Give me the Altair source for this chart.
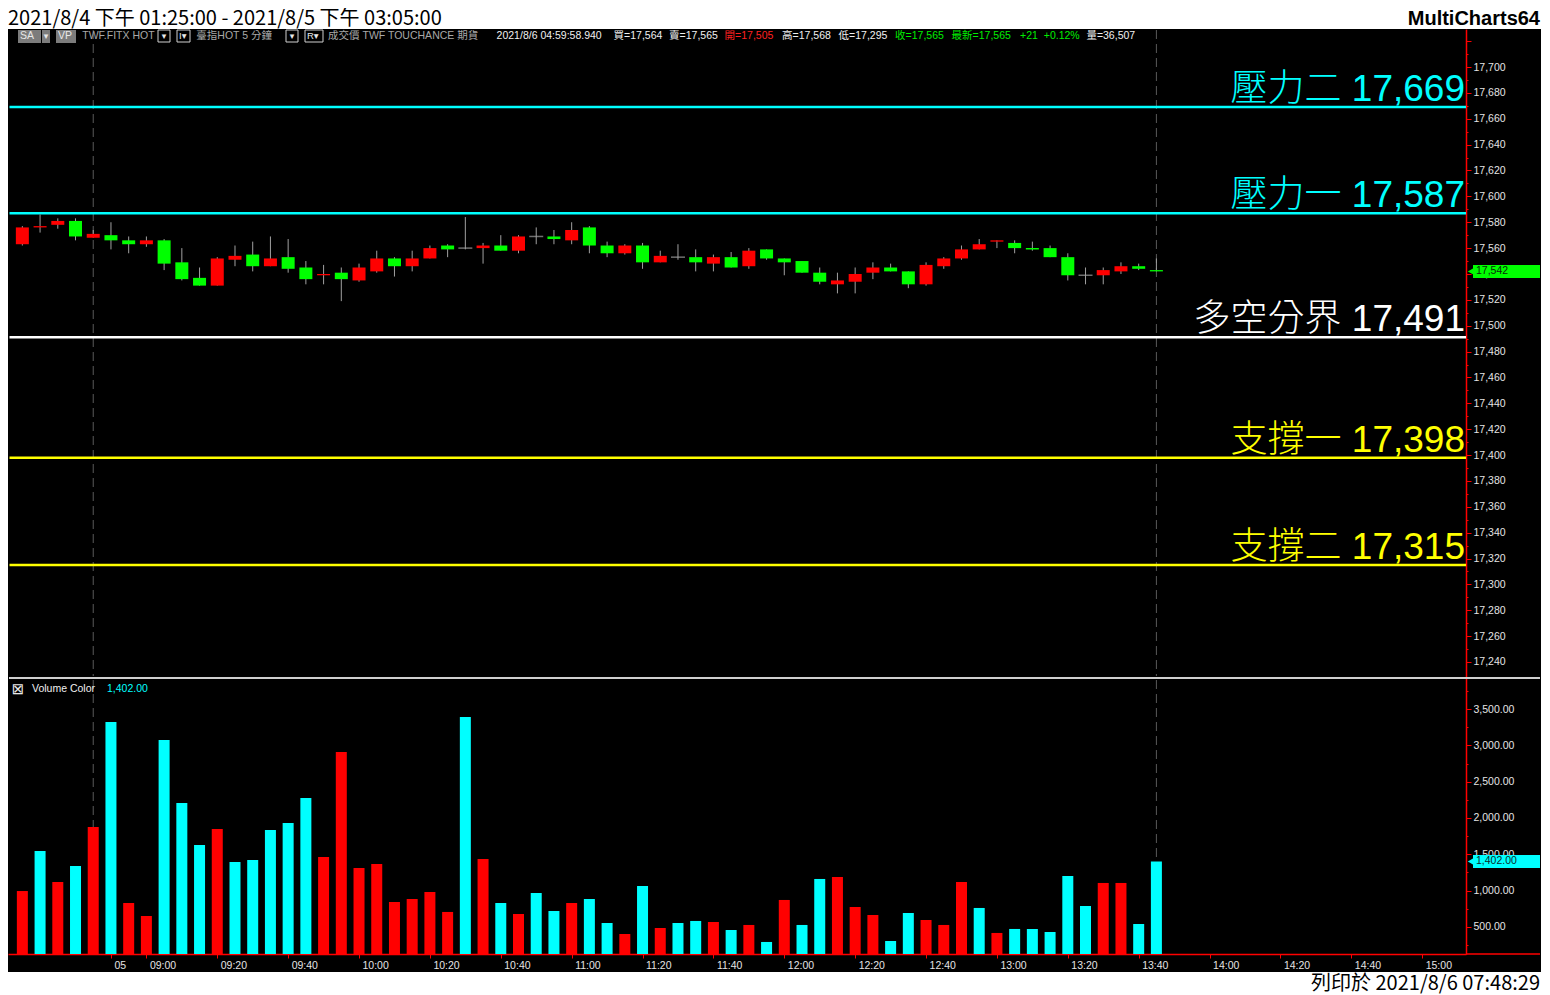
import altair as alt
import pandas as pd

# ------------------------------------------------------------------ data
TITLE_TEXT = "2021/8/4 下午 01:25:00 - 2021/8/5 下午 03:05:00"
BRAND_TEXT = "MultiCharts64"
FOOTER_TEXT = "列印於 2021/8/6 07:48:29"

DAY1_TIMES = ["13:25", "13:30", "13:35", "13:40", "13:45"]
DAY2_TIMES = [f"{m // 60:02d}:{m % 60:02d}" for m in range(530, 826, 5)]
BAR_TIMES = DAY1_TIMES + DAY2_TIMES

OPEN = [17563, 17576, 17578, 17581, 17568, 17570, 17566, 17563, 17566, 17549,
        17537, 17531, 17551, 17555, 17546, 17553, 17545, 17539, 17541, 17535,
        17542, 17552, 17546, 17552, 17562, 17560, 17560, 17562, 17558, 17569,
        17569, 17566, 17576, 17562, 17556, 17562, 17549, 17553, 17553, 17548,
        17553, 17546, 17559, 17552, 17550, 17541, 17532, 17534, 17541, 17545,
        17542, 17532, 17546, 17552, 17559, 17565, 17564, 17560, 17560, 17553,
        17539, 17539, 17542, 17546, 17543]
HIGH = [17577, 17586, 17583, 17583, 17574, 17580, 17569, 17569, 17567, 17560,
        17545, 17553, 17562, 17565, 17569, 17567, 17550, 17547, 17545, 17548,
        17558, 17553, 17558, 17562, 17563, 17584, 17564, 17570, 17570, 17576,
        17574, 17580, 17577, 17565, 17563, 17564, 17558, 17563, 17559, 17555,
        17557, 17560, 17559, 17552, 17550, 17545, 17541, 17545, 17549, 17548,
        17542, 17549, 17553, 17562, 17567, 17566, 17566, 17565, 17562, 17556,
        17545, 17545, 17549, 17548, 17552]
LOW = [17562, 17572, 17575, 17566, 17568, 17559, 17556, 17561, 17543, 17535,
       17531, 17531, 17546, 17542, 17546, 17541, 17532, 17532, 17519, 17534,
       17541, 17538, 17542, 17552, 17553, 17559, 17548, 17558, 17556, 17563,
       17563, 17563, 17556, 17553, 17555, 17544, 17549, 17551, 17542, 17542,
       17545, 17544, 17551, 17539, 17541, 17532, 17525, 17525, 17536, 17542,
       17529, 17531, 17544, 17551, 17559, 17560, 17556, 17558, 17553, 17535,
       17532, 17532, 17540, 17543, 17542]
CLOSE = [17576, 17577, 17581, 17569, 17571, 17566, 17563, 17566, 17548, 17536,
         17531, 17552, 17554, 17546, 17552, 17544, 17536, 17540, 17536, 17545,
         17552, 17546, 17552, 17560, 17559, 17560, 17562, 17558, 17569, 17569,
         17567, 17574, 17562, 17556, 17562, 17549, 17554, 17553, 17549, 17553,
         17545, 17558, 17552, 17549, 17541, 17534, 17535, 17540, 17545, 17542,
         17532, 17547, 17552, 17559, 17563, 17566, 17560, 17559, 17553, 17539,
         17539, 17543, 17546, 17544, 17542]
VOLUME = [995, 1546, 1119, 1340, 1876, 3321, 830, 651, 3073, 2206,
          1628, 1849, 1395, 1422, 1835, 1931, 2275, 1463, 2908, 1312,
          1367, 844, 885, 982, 707, 3390, 1436, 830, 679, 968,
          720, 830, 885, 555, 404, 1064, 486, 555, 583, 569,
          459, 528, 294, 872, 528, 1161, 1188, 775, 665, 307,
          693, 596, 528, 1119, 762, 418, 473, 473, 431, 1202,
          789, 1106, 1106, 541, 1402]
# r = red volume bar, c = cyan volume bar
VOLUME_SIDE = list("rcrcrcrrcc" "crcccccrrr" "rrrrrcrcrc" "crccrcrccr"
                   "crcrccrrrc" "crrrcrcccc" "crrcc")

LEVEL_NAMES = ["壓力二", "壓力一", "多空分界", "支撐一", "支撐二"]
LEVEL_VALUES = [17669, 17587, 17491, 17398, 17315]
LEVEL_KINDS = ["res", "res", "pivot", "sup", "sup"]

LAST_PRICE = 17542
LAST_VOLUME = 1402.00

XTICK_TIMES = ["08:50", "09:00", "09:20", "09:40", "10:00", "10:20", "10:40",
               "11:00", "11:20", "11:40", "12:00", "12:20", "12:40", "13:00",
               "13:20", "13:40", "14:00", "14:20", "14:40", "15:00"]
XTICK_LABELS = ["05", "09:00", "09:20", "09:40", "10:00", "10:20", "10:40",
                "11:00", "11:20", "11:40", "12:00", "12:20", "12:40", "13:00",
                "13:20", "13:40", "14:00", "14:20", "14:40", "15:00"]

HEADER_TEXTS = ["TWF.FITX HOT", "臺指HOT  5 分鐘", "成交價  TWF  TOUCHANCE  期貨",
                "2021/8/6  04:59:58.940", "買=17,564", "賣=17,565", "開=17,505",
                "高=17,568", "低=17,295", "收=17,565", "最新=17,565", "+21",
                "+0.12%", "量=36,507"]
HEADER_TONES = ["gray", "gray", "gray", "white", "white", "white", "red",
                "white", "white", "green", "green", "green", "green", "white"]
VOLUME_TITLE = "Volume Color"

# ------------------------------------------------------------------ layout / style
W_PLOT, W_AXIS = 1458, 75
W_ALL = W_PLOT + W_AXIS
H_TITLE, H_PRICE, H_VOL, H_XAXIS, H_FOOT = 21, 648, 277, 18, 23
FX = W_PLOT / 1471.0          # horizontal factor vs. the original plot width

PRICE_DOMAIN = [17228.4, 17729.4]
VOL_DOMAIN = [128.4, 3940.4]
X_DOMAIN = [-0.528, 81.19]

HEADER_X = [75, 190, 323, 493, 611, 667, 723, 781, 838, 895, 952, 1021, 1045, 1088]
TONE_COLORS = {"gray": "#a8a8a8", "white": "#f0f0f0", "red": "#ff2020", "green": "#00ee00"}

SMALL_FONT = "Liberation Sans, DejaVu Sans, Noto Sans CJK TC"
BIG_FONT = "Liberation Sans, Noto Sans CJK TC"
CJK_FONT = "Noto Sans CJK TC"

UP, DOWN, WICK = "#ff0000", "#00ff00", "#a0a0a0"
VOL_RED, VOL_CYAN = "#ff0000", "#00ffff"
AXIS_RED = "#ff0000"
LABEL_GRAY = "#e4e4e4"
HEADER_Y = 7

# ------------------------------------------------------------------ tables
bars = pd.DataFrame({
    "i": list(range(len(BAR_TIMES))), "time": BAR_TIMES,
    "open": OPEN, "high": HIGH, "low": LOW, "close": CLOSE,
    "vol": VOLUME, "vside": VOLUME_SIDE,
})
sessions = pd.DataFrame({"i": [i for i, t in enumerate(BAR_TIMES) if t == "13:45"]})
levels = pd.DataFrame({
    "value": LEVEL_VALUES, "kind": LEVEL_KINDS,
    "label": [f"{n} {v:,}" for n, v in zip(LEVEL_NAMES, LEVEL_VALUES)],
})
one = pd.DataFrame({"k": [0]})


def tick_index(t):
    h, m = t.split(":")
    return 5 + (int(h) * 60 + int(m) - 530) // 5


XTICK_IDX = [tick_index(t) for t in XTICK_TIMES]
x_label_expr = "''"
for idx, lab in reversed(list(zip(XTICK_IDX, XTICK_LABELS))):
    x_label_expr = f"datum.value == {idx} ? '{lab}' : {x_label_expr}"

PRICE_TICKS = list(range(17240, 17721, 10))
VOL_TICKS = list(range(250, 3751, 250))

# ------------------------------------------------------------------ scales / axes
x_scale = alt.Scale(domain=X_DOMAIN, nice=False, zero=False)
price_scale = alt.Scale(domain=PRICE_DOMAIN, nice=False, zero=False)
vol_scale = alt.Scale(domain=VOL_DOMAIN, nice=False, zero=False)

price_axis = alt.Axis(
    orient="right", values=PRICE_TICKS, title=None, grid=False,
    labelExpr="datum.value % 20 == 0 && datum.value <= 17700 ? format(datum.value, ',') : ''",
    domainColor=AXIS_RED, domainWidth=1.5, tickColor=AXIS_RED,
    tickSize={"condition": {"test": "datum.value % 20 == 0", "value": 5}, "value": 2},
    labelColor=LABEL_GRAY, labelFont="Liberation Sans", labelFontSize=10.5,
    labelPadding=2, labelOverlap=False, labelFlush=False,
    minExtent=W_AXIS, maxExtent=W_AXIS,
)
vol_axis = alt.Axis(
    orient="right", values=VOL_TICKS, title=None, grid=False,
    labelExpr="datum.value % 500 == 0 && datum.value >= 500 && datum.value <= 3500 ? format(datum.value, ',.2f') : ''",
    domainColor=AXIS_RED, domainWidth=1.5, tickColor=AXIS_RED,
    tickSize={"condition": {"test": "datum.value % 500 == 0", "value": 5}, "value": 2},
    labelColor=LABEL_GRAY, labelFont="Liberation Sans", labelFontSize=10.5,
    labelPadding=2, labelOverlap=False, labelFlush=False,
    minExtent=W_AXIS, maxExtent=W_AXIS,
)
x_axis = alt.Axis(
    values=XTICK_IDX, labelExpr=x_label_expr, title=None, grid=False,
    domainColor=AXIS_RED, domainWidth=1.5, tickColor=AXIS_RED, tickSize=4,
    labelColor=LABEL_GRAY, labelFont="Liberation Sans", labelFontSize=10.5,
    labelAlign="left", labelOffset=3, labelPadding=2, labelFlush=False,
    labelOverlap=False, minExtent=H_XAXIS, maxExtent=H_XAXIS,
)


def px(field):
    return alt.X(f"{field}:Q", scale=x_scale, axis=None)


def py(field):
    return alt.Y(f"{field}:Q", scale=price_scale, axis=price_axis)


def vx(field):
    return alt.X(f"{field}:Q", scale=x_scale, axis=x_axis)


def vy(field):
    return alt.Y(f"{field}:Q", scale=vol_scale, axis=vol_axis)


def label(text, x, y, color, size, font=SMALL_FONT, align="left",
          baseline="middle", weight="normal"):
    return alt.Chart(one).mark_text(
        text=text, color=color, fontSize=size, font=font, align=align,
        baseline=baseline, fontWeight=weight,
    ).encode(x=alt.value(x), y=alt.value(y))


def box(x, x2, y, y2, fill=None, stroke=None):
    kw = {}
    if fill is not None:
        kw["fill"] = fill
    else:
        kw["fillOpacity"] = 0
    if stroke is not None:
        kw["stroke"] = stroke
        kw["strokeWidth"] = 1
    return alt.Chart(one).mark_rect(**kw).encode(
        x=alt.value(x), x2=alt.value(x2), y=alt.value(y), y2=alt.value(y2))


level_color = alt.Color("kind:N", legend=None, scale=alt.Scale(
    domain=["res", "pivot", "sup"], range=["#00ffff", "#ffffff", "#ffff00"]))

# ------------------------------------------------------------------ price panel
base = alt.Chart(bars)
price_layers = [
    alt.Chart(sessions).mark_rule(color="#5a5a5a", strokeWidth=1, strokeDash=[9, 5]).encode(
        x=px("i"), y=alt.value(1), y2=alt.value(H_PRICE - 1)),
    alt.Chart(levels).mark_rule(strokeWidth=2.5).encode(
        y=py("value"), x=alt.value(1.5), x2=alt.value(W_PLOT), color=level_color),
    base.mark_rule(color=WICK, strokeWidth=1).encode(x=px("i"), y=py("low"), y2="high:Q"),
    base.transform_filter("datum.close > datum.open").mark_bar(size=13, color=UP).encode(
        x=px("i"), y=py("open"), y2="close:Q"),
    base.transform_filter("datum.close < datum.open").mark_bar(size=13, color=DOWN).encode(
        x=px("i"), y=py("open"), y2="close:Q"),
    base.transform_filter("datum.close == datum.open").mark_tick(
        orient="horizontal", size=14, thickness=1.5, color=WICK).encode(x=px("i"), y=py("open")),
    alt.Chart(levels).mark_text(
        align="right", baseline="alphabetic", dy=-6, fontSize=37, font=BIG_FONT, fontWeight=300,
    ).encode(x=alt.value(W_PLOT - 1), y=py("value"), text="label:N", color=level_color),
]

# header widgets (toolbar row)
WIDGET_GRAY = "#7c7c7c"
WHITE_TXT = "#e8e8e8"
price_layers += [
    box(10, 33, 1, 14, fill=WIDGET_GRAY), label("SA", 12, HEADER_Y, WHITE_TXT, 10.5),
    box(34, 42, 1, 14, fill=WIDGET_GRAY), label("▾", 38, HEADER_Y, WHITE_TXT, 9, align="center"),
    box(48, 68, 1, 14, fill=WIDGET_GRAY), label("VP", 50, HEADER_Y, WHITE_TXT, 10.5),
    box(150, 162, 1, 13, stroke="#d0d0d0"), label("▾", 156, HEADER_Y, WHITE_TXT, 9, align="center"),
    box(169, 182, 1, 13, stroke="#d0d0d0"), label("I▾", 171, HEADER_Y, WHITE_TXT, 9.5),
    box(278, 290, 1, 13, stroke="#d0d0d0"), label("▾", 284, HEADER_Y, WHITE_TXT, 9, align="center"),
    box(297, 315, 1, 13, stroke="#d0d0d0"), label("R▾", 299, HEADER_Y, WHITE_TXT, 9.5),
]
for text, tone, x in zip(HEADER_TEXTS, HEADER_TONES, HEADER_X):
    price_layers.append(label(text, round(x * FX, 1), HEADER_Y, TONE_COLORS[tone], 10.5))

# last price marker on the price scale
p_half = 6.5 * (PRICE_DOMAIN[1] - PRICE_DOMAIN[0]) / H_PRICE
price_layers += [
    alt.Chart(one).mark_rect(color="#00ff00").encode(
        x=alt.value(W_PLOT + 7), x2=alt.value(W_ALL - 1),
        y=alt.Y(datum=LAST_PRICE + p_half, type="quantitative", scale=price_scale, axis=price_axis),
        y2=alt.Y2(datum=LAST_PRICE - p_half)),
    alt.Chart(one).mark_point(shape="triangle-left", filled=True, size=55, color="#00ff00", opacity=1).encode(
        x=alt.value(W_PLOT + 5),
        y=alt.Y(datum=LAST_PRICE, type="quantitative", scale=price_scale, axis=price_axis)),
    alt.Chart(one).mark_text(text=f"{LAST_PRICE:,}", align="left", baseline="middle",
                             fontSize=10.5, font="Liberation Sans", color="#0b2a0b").encode(
        x=alt.value(W_PLOT + 10),
        y=alt.Y(datum=LAST_PRICE, type="quantitative", scale=price_scale, axis=price_axis)),
]

price_chart = alt.layer(*price_layers).properties(width=W_PLOT, height=H_PRICE)

# ------------------------------------------------------------------ volume panel
v_half = 6.5 * (VOL_DOMAIN[1] - VOL_DOMAIN[0]) / H_VOL
vol_layers = [
    alt.Chart(sessions).mark_rule(color="#5a5a5a", strokeWidth=1, strokeDash=[9, 5]).encode(
        x=vx("i"), y=alt.value(3), y2=alt.value(H_VOL - 1)),
    alt.Chart(bars).mark_bar(size=11).encode(
        x=vx("i"), y=vy("vol"), y2=alt.Y2(datum=VOL_DOMAIN[0]),
        color=alt.Color("vside:N", legend=None,
                        scale=alt.Scale(domain=["r", "c"], range=[VOL_RED, VOL_CYAN]))),
    alt.Chart(one).mark_rule(color="#cfcfcf", strokeWidth=2).encode(
        x=alt.value(1), x2=alt.value(W_ALL - 1), y=alt.value(1)),
    alt.Chart(one).mark_rule(color=AXIS_RED, strokeWidth=1.5).encode(
        x=alt.value(W_PLOT), x2=alt.value(W_ALL - 1), y=alt.value(H_VOL)),
    label("⊠", 10, 12, "#e8e8e8", 15, font="DejaVu Sans", align="center"),
    label(VOLUME_TITLE, 24, 12, "#f0f0f0", 10.5),
    label(f"{LAST_VOLUME:,.2f}", 99, 12, VOL_CYAN, 10.5),
    alt.Chart(one).mark_rect(color=VOL_CYAN).encode(
        x=alt.value(W_PLOT + 7), x2=alt.value(W_ALL - 1),
        y=alt.Y(datum=LAST_VOLUME + v_half, type="quantitative", scale=vol_scale, axis=vol_axis),
        y2=alt.Y2(datum=LAST_VOLUME - v_half)),
    alt.Chart(one).mark_point(shape="triangle-left", filled=True, size=55, color=VOL_CYAN, opacity=1).encode(
        x=alt.value(W_PLOT + 5),
        y=alt.Y(datum=LAST_VOLUME, type="quantitative", scale=vol_scale, axis=vol_axis)),
    alt.Chart(one).mark_text(text=f"{LAST_VOLUME:,.2f}", align="left", baseline="middle",
                             fontSize=10.5, font="Liberation Sans", color="#0b2a2a").encode(
        x=alt.value(W_PLOT + 10),
        y=alt.Y(datum=LAST_VOLUME, type="quantitative", scale=vol_scale, axis=vol_axis)),
]
volume_chart = alt.layer(*vol_layers).properties(width=W_PLOT, height=H_VOL)

# ------------------------------------------------------------------ title / footer bands
title_chart = alt.layer(
    label(TITLE_TEXT, 0, 1, "#000000", 20, font=CJK_FONT, baseline="top"),
    label(BRAND_TEXT, W_ALL - 1, 1, "#000000", 20, font="Liberation Sans",
          align="right", baseline="top", weight="bold"),
).properties(width=W_ALL, height=H_TITLE,
             view=alt.ViewBackground(fill="#ffffff", strokeWidth=0))

footer_chart = alt.layer(
    label(FOOTER_TEXT, W_ALL - 1, 2, "#000000", 20, font=CJK_FONT,
          align="right", baseline="top"),
).properties(width=W_ALL, height=H_FOOT,
             view=alt.ViewBackground(fill="#ffffff", strokeWidth=0))

chart = alt.vconcat(
    title_chart, price_chart, volume_chart, footer_chart, spacing=0,
).resolve_scale(
    x="independent", y="independent", color="independent",
).properties(
    background="#000000", padding=0,
).configure_view(strokeWidth=0)

chart.save("out.html", embed_options={"renderer": "svg", "actions": False})
